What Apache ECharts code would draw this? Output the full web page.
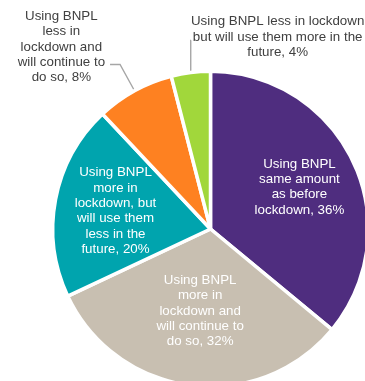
<!DOCTYPE html>
<html>
<head>
<meta charset="utf-8">
<script src="https://cdn.jsdelivr.net/npm/echarts@6/dist/echarts.min.js"></script>
<style>
  html, body { margin: 0; padding: 0; background: #ffffff; }
  #chart { width: 365px; height: 381px; }
</style>
</head>
<body>
<div id="chart"></div>
<script>
// Survey answers, clockwise from 12 o'clock
const categories = [
  'Using BNPL\nsame amount\nas before\nlockdown',
  'Using BNPL\nmore in\nlockdown and\nwill continue to\ndo so',
  'Using BNPL\nmore in\nlockdown, but\nwill use them\nless in the\nfuture',
  'Using BNPL\nless in\nlockdown and\nwill continue to\ndo so',
  'Using BNPL less in lockdown\nbut will use them more in the\nfuture'
];
const shares = [36, 32, 20, 8, 4];

// Styling
const colors = ['#4F2D7F', '#C8BFB1', '#00A4AE', '#FE8121', '#A1D73B'];
const insideLabelRadius = [0.63, 0.53, 0.62];   // label centre, as a fraction of the radius
const CX = 210.5, CY = 229, R = 156, GAP = 3.5;
const FONT = 'Liberation Sans, Arial, sans-serif';
const FS = 13.33, LH = 15.3;

const chart = echarts.init(document.getElementById('chart'), null, { renderer: 'canvas' });

function richLines(p) {
  const style = p.dataIndex < 3 ? 'w' : 'd';
  return (p.name + ', ' + p.value + '%').split('\n')
    .map(function (l) { return '{' + style + '|' + l + '}'; }).join('\n');
}

const data = categories.map(function (name, i) {
  const item = { name: name, value: shares[i], itemStyle: { color: colors[i] } };
  if (i === 3) {
    item.label = { position: 'outside', padding: [0, 0, 35, 0] };
    item.labelLine = { show: true, length: 30, length2: 10 };
  } else if (i === 4) {
    item.label = { position: 'outside', padding: [0, 0, 7, 0] };
    item.labelLine = { show: true, length: 30, length2: 1 };
  }
  return item;
});

chart.setOption({
  animation: false,
  series: [{
    type: 'pie',
    center: [CX, CY],
    radius: [0, R + GAP / 2],
    startAngle: 90,
    clockwise: true,
    avoidLabelOverlap: false,
    itemStyle: { borderColor: '#ffffff', borderWidth: GAP },
    label: {
      show: true,
      position: 'inside',
      formatter: richLines,
      fontFamily: FONT,
      fontSize: FS,
      lineHeight: LH,
      rich: {
        w: { color: '#ffffff', fontFamily: FONT, fontSize: FS, lineHeight: LH, align: 'center' },
        d: { color: '#404040', fontFamily: FONT, fontSize: FS, lineHeight: LH, align: 'center' }
      }
    },
    labelLine: {
      show: true,
      lineStyle: { color: '#A6A6A6', width: 1.4 }
    },
    labelLayout: function (p) {
      const i = p.dataIndex;
      const r = p.labelRect;
      if (i < 3) {
        // push inside labels outward along their slice's bisector
        const vx = r.x + r.width / 2 - CX;
        const vy = r.y + r.height / 2 - CY;
        const d = Math.sqrt(vx * vx + vy * vy);
        const k = insideLabelRadius[i] * R / d - 1;
        return { dx: vx * k, dy: vy * k };
      }
      if (i === 4 && p.labelLinePoints) {
        // small slice: text sits to the right of its leader line
        const pt = p.labelLinePoints[1];
        return { x: pt[0] + 4 + r.width / 2, y: pt[1] - 2.4, align: 'center', verticalAlign: 'middle' };
      }
      return {};
    },
    emphasis: { disabled: true },
    data: data
  }]
});
</script>
</body>
</html>
